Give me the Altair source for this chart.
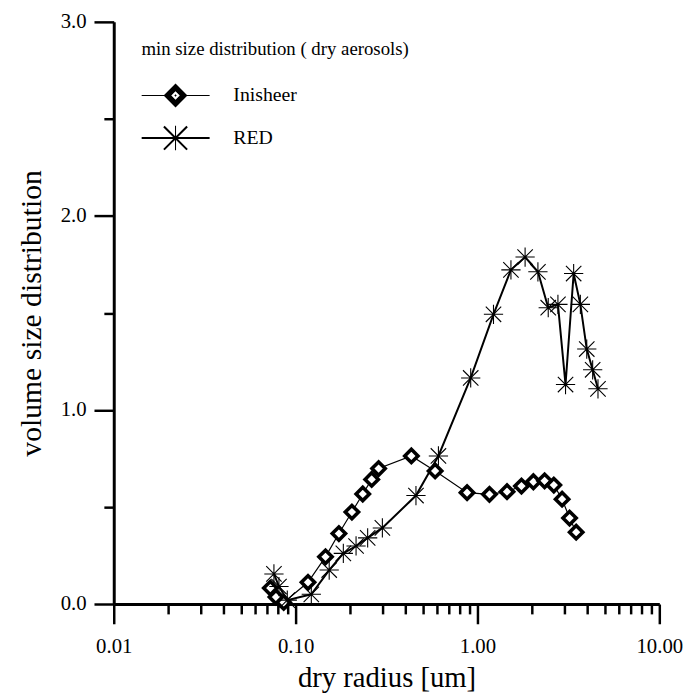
import altair as alt
import pandas as pd

# ---------------- data ----------------
ini_x = [0.0726, 0.078, 0.086, 0.117, 0.146, 0.173, 0.204, 0.234, 0.262, 0.286,
         0.433, 0.585, 0.877, 1.164, 1.454, 1.746, 2.03, 2.34, 2.63, 2.92, 3.21, 3.49]
ini_y = [0.082, 0.036, 0.008, 0.112, 0.243, 0.363, 0.474, 0.567, 0.642, 0.698,
         0.763, 0.686, 0.574, 0.565, 0.579, 0.608, 0.630, 0.635, 0.613, 0.540, 0.443, 0.370]

red_x = [0.076, 0.081, 0.090, 0.122, 0.153, 0.183, 0.215, 0.249, 0.300, 0.459,
         0.610, 0.918, 1.225, 1.528, 1.828, 2.15, 2.45, 2.77, 3.05, 3.38, 3.68,
         3.99, 4.30, 4.60]
red_y = [0.155, 0.09, 0.02, 0.05, 0.175, 0.261, 0.299, 0.341, 0.392, 0.559,
         0.763, 1.165, 1.493, 1.722, 1.788, 1.712, 1.527, 1.544, 1.131, 1.703, 1.544,
         1.314, 1.207, 1.109]

series_names = ["Inisheer", "RED"]
legend_title = "min size distribution ( dry aerosols)"
x_title = "dry radius [um]"
y_title = "volume size distribution"

x_major = [0.01, 0.1, 1.0, 10.0]
x_minor = [m * 10.0 ** e for e in (-2, -1, 0) for m in range(2, 10)]
y_major = [0.0, 1.0, 2.0, 3.0]
y_minor = [0.5, 1.5, 2.5]

# ---------------- tables ----------------
ini = pd.DataFrame({"r": ini_x, "v": ini_y, "series": series_names[0]})
red = pd.DataFrame({"r": red_x, "v": red_y, "series": series_names[1]})
both = pd.concat([ini, red], ignore_index=True)

FONT = "Liberation Serif"
xscale = alt.Scale(type="log", domain=[0.01, 10])
yscale = alt.Scale(domain=[0, 3])

ASTERISK = "M-1,0L1,0M0,-1L0,1M-0.8,-0.8L0.8,0.8M-0.8,0.8L0.8,-0.8"


def _rect(x0, x1, t):
    return f"M{x0},{-t}H{x1}V{t}H{x0}Z"


def _diag(a, t, up):
    d = t / 2 ** 0.5
    if up:   # from (-a,-a) to (a,a)
        pts = [(-a + d, -a - d), (a + d, a - d), (a - d, a + d), (-a - d, -a + d)]
    else:    # from (-a,a) to (a,-a)
        pts = [(-a - d, a - d), (a - d, -a - d), (a + d, -a + d), (-a + d, a + d)]
    return "M" + "L".join(f"{px:.4f},{py:.4f}" for px, py in pts) + "Z"


# legend glyphs built as filled shapes (1 unit = ~34.5 px)
LEG_INI = (_rect(-1, -0.34, 0.016) + _rect(0.34, 1, 0.016)
           + "M0,-0.35L0.35,0L0,0.35L-0.35,0Z"
           + "M0,-0.125L-0.125,0L0,0.125L0.125,0Z"
           + "M0,-0.035L0.035,0L0,0.035L-0.035,0Z")
LEG_RED = (_rect(-1, 1, 0.03)
           + _rect(-0.36, 0.36, 0.015)
           + "M-0.015,-0.36H0.015V0.36H-0.015Z"
           + _diag(0.34, 0.03, True) + _diag(0.34, 0.03, False))

x_major_axis = alt.Axis(values=x_major, format=".2f", orient="bottom", grid=False,
                        tickSize=20, tickWidth=2.5, tickColor="black",
                        domainWidth=3, domainColor="black",
                        labelFont=FONT, labelFontSize=21, labelColor="black",
                        labelPadding=12, labelFlush=False, labelOverlap=False,
                        title=x_title, titleFont=FONT, titleFontSize=29,
                        titleFontWeight="normal", titleColor="black", titlePadding=7)
y_major_axis = alt.Axis(values=y_major, format=".1f", orient="left", grid=False,
                        tickSize=20, tickWidth=2.5, tickColor="black",
                        domainWidth=3, domainColor="black",
                        labelFont=FONT, labelFontSize=21, labelColor="black",
                        labelPadding=8, labelFlush=False, labelOverlap=False,
                        title=y_title, titleFont=FONT, titleFontSize=30,
                        titleFontWeight="normal", titleColor="black", titlePadding=14)
x_minor_axis = alt.Axis(values=x_minor, orient="bottom", grid=False, labels=False,
                        domain=False, tickSize=10, tickWidth=2.5, tickColor="black",
                        title=None)
y_minor_axis = alt.Axis(values=y_minor, orient="left", grid=False, labels=False,
                        domain=False, tickSize=10, tickWidth=2.5, tickColor="black",
                        title=None)

line_ini = alt.Chart(ini).mark_line(color="black", strokeWidth=1.2).encode(
    x=alt.X("r:Q", scale=xscale, axis=x_major_axis),
    y=alt.Y("v:Q", scale=yscale, axis=y_major_axis),
)
line_red = alt.Chart(red).mark_line(color="black", strokeWidth=2).encode(
    x=alt.X("r:Q", scale=xscale, axis=x_minor_axis),
    y=alt.Y("v:Q", scale=yscale, axis=y_minor_axis),
)
pts_ini = alt.Chart(ini).mark_point(shape="diamond", filled=True, fill="white",
                                    stroke="black", strokeWidth=3.6, size=180,
                                    opacity=1).encode(
    x=alt.X("r:Q", scale=xscale, axis=None),
    y=alt.Y("v:Q", scale=yscale, axis=None),
)
pts_red = alt.Chart(red).mark_point(shape=ASTERISK, filled=False, stroke="black",
                                    strokeWidth=1.1, size=380, opacity=1).encode(
    x=alt.X("r:Q", scale=xscale, axis=None),
    y=alt.Y("v:Q", scale=yscale, axis=None),
)
legend_layer = alt.Chart(both).mark_point(filled=True, fill="black", strokeWidth=0,
                                          opacity=0).encode(
    x=alt.X("r:Q", scale=xscale, axis=None),
    y=alt.Y("v:Q", scale=yscale, axis=None),
    shape=alt.Shape("series:N",
                    scale=alt.Scale(domain=series_names, range=[LEG_INI, LEG_RED]),
                    legend=alt.Legend(title=legend_title, orient="none",
                                      legendX=28, legendY=19,
                                      titleFont=FONT, titleFontSize=19,
                                      titleFontWeight="normal", titleColor="black",
                                      titleLimit=600,
                                      titlePadding=15, titleBaseline="top",
                                      labelFont=FONT, labelFontSize=20,
                                      labelColor="black", labelOffset=24,
                                      symbolSize=4761, symbolFillColor="black",
                                      symbolStrokeWidth=0,
                                      symbolOpacity=1, rowPadding=0, padding=0,
                                      clipHeight=43)),
)

chart = alt.layer(line_ini, line_red, pts_ini, pts_red, legend_layer).resolve_axis(
    x="independent", y="independent"
).properties(
    width=552, height=589,
    autosize=alt.AutoSizeParams(type="none"),
    padding={"left": 107, "top": 10, "right": 27, "bottom": 86},
).configure_view(stroke=None)

chart.save("out.html", embed_options={"renderer": "svg", "actions": False})
